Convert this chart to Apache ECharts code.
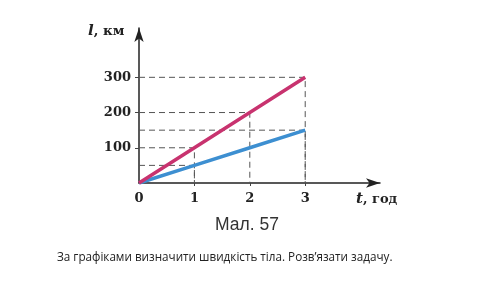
<!DOCTYPE html>
<html><head><meta charset="utf-8">
<script src="https://cdn.jsdelivr.net/npm/echarts@6/dist/echarts.min.js"></script>
<style>html,body{margin:0;padding:0;background:#fff}#c{width:500px;height:301px}</style>
</head><body><div id="c"></div>
<script>
const tValues = [0, 1, 2, 3];
const redValues = [0, 100, 200, 300];
const blueValues = [0, 50, 100, 150];
const yTickLabels = [100, 200, 300];
const xTickLabels = [0, 1, 2, 3];
// guide points (t, l) with dashed projections onto both axes
const guidePoints = [[1, 100], [2, 200], [3, 300], [1, 50], [3, 150]];

const guideSeries = [];
guidePoints.forEach(p => {
  guideSeries.push({
    type: 'line', data: [[0, p[1]], [p[0], p[1]], [p[0], 0]], symbol: 'none', silent: true, z: 1,
    lineStyle: { color: '#555', width: 1, type: [6, 4] }
  });
});

const chart = echarts.init(document.getElementById('c'));
chart.setOption({
  animation: false,
  grid: { left: 139, top: 28, width: 241, bottom: 118 },
  xAxis: {
    type: 'value', min: 0, max: 4.35, interval: 1,
    axisLine: { lineStyle: { color: '#222', width: 1.5 }, symbol: ['none', 'arrow'], symbolSize: [7, 14] },
    axisTick: { show: true, length: 3, customValues: [1, 2, 3], lineStyle: { color: '#444' } },
    axisLabel: { customValues: xTickLabels, margin: 9, color: '#222', fontFamily: 'DejaVu Serif', fontWeight: 'bold', fontSize: 13 },
    splitLine: { show: false }
  },
  yAxis: {
    type: 'value', min: 0, max: 440, interval: 100,
    axisLine: { show: true, lineStyle: { color: '#222', width: 1.5 }, symbol: ['none', 'arrow'], symbolSize: [7, 14] },
    axisTick: { show: true, length: 4, customValues: yTickLabels, lineStyle: { color: '#444' } },
    axisLabel: { customValues: yTickLabels, margin: 8, color: '#222', fontFamily: 'DejaVu Serif', fontWeight: 'bold', fontSize: 13 },
    splitLine: { show: false }
  },
  series: guideSeries.concat([
    { type: 'line', data: tValues.map((t, i) => [t, blueValues[i]]), symbol: 'none', z: 3,
      lineStyle: { color: '#3d8fd1', width: 3.5 } },
    { type: 'line', data: tValues.map((t, i) => [t, redValues[i]]), symbol: 'none', z: 4,
      lineStyle: { color: '#c8336f', width: 3.5 } }
  ]),
  graphic: [
    { type: 'text', left: 88, top: 24, style: {
      text: '{i|l}{n|, км}', rich: {
        i: { fontFamily: 'DejaVu Serif', fontStyle: 'italic', fontWeight: 'bold', fontSize: 15, fill: '#222' },
        n: { fontFamily: 'DejaVu Serif', fontWeight: 'bold', fontSize: 13.5, fill: '#222' } } } },
    { type: 'text', left: 356, top: 192, style: {
      text: '{i|t}{n|, год}', rich: {
        i: { fontFamily: 'DejaVu Serif', fontStyle: 'italic', fontWeight: 'bold', fontSize: 15, fill: '#222' },
        n: { fontFamily: 'DejaVu Serif', fontWeight: 'bold', fontSize: 13, fill: '#222' } } } },
    { type: 'text', left: 215, top: 216, style: { text: 'Мал. 57', fontFamily: 'Liberation Sans', fontSize: 17.5, fill: '#333' } },
    { type: 'text', left: 57, top: 252, style: { text: 'За графіками визначити швидкість тіла. Розв’язати задачу.', fontFamily: 'Open Sans', fontSize: 11.7, fill: '#222' } }
  ]
});
</script></body></html>
